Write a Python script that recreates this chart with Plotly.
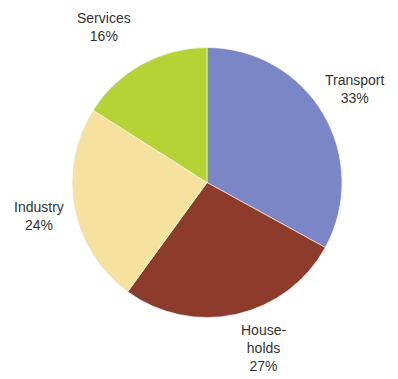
import math
import plotly.graph_objects as go

# Energy consumption shares by sector
categories = ["Transport", "Households", "Industry", "Services"]
display_names = ["Transport", "House-<br>holds", "Industry", "Services"]
shares = [33, 27, 24, 16]

colors = ["#7b86c7", "#8d3c2b", "#f6e29e", "#b6d335"]

W, H = 398, 379
CX, CY, R = 207, 182.5, 135          # pie centre and radius in pixels
LABEL_R = 175                         # radius at which labels sit
LABEL_NUDGE = [(-3, -4), (18, -5), (4, 1), (-19, -2)]  # fine pixel offsets

fig = go.Figure(
    go.Pie(
        labels=categories,
        values=shares,
        sort=False,
        direction="clockwise",
        rotation=0,
        textinfo="none",
        hoverinfo="label+percent",
        marker=dict(colors=colors, line=dict(color="rgba(255,255,255,0.6)", width=1)),
        domain=dict(x=[(CX - R) / W, (CX + R) / W], y=[1 - (CY + R) / H, 1 - (CY - R) / H]),
        showlegend=False,
    )
)

# Labels placed around the pie at each slice's mid-angle
total = sum(shares)
cum = 0
annotations = []
for name, v, (dx, dy) in zip(display_names, shares, LABEL_NUDGE):
    mid = 2 * math.pi * (cum + v / 2) / total
    cum += v
    px = CX + LABEL_R * math.sin(mid) + dx
    py = CY - LABEL_R * math.cos(mid) + dy
    annotations.append(
        dict(
            x=px / W,
            y=1 - py / H,
            xref="paper",
            yref="paper",
            text=f"{name}<br>{round(100 * v / total)}%",
            showarrow=False,
            xanchor="center",
            yanchor="middle",
            font=dict(family="Liberation Sans, Arial, sans-serif", size=14, color="#333333"),
        )
    )

fig.update_layout(
    width=W,
    height=H,
    margin=dict(l=0, r=0, t=0, b=0),
    paper_bgcolor="white",
    plot_bgcolor="white",
    annotations=annotations,
)

fig.write_html("out.html")
